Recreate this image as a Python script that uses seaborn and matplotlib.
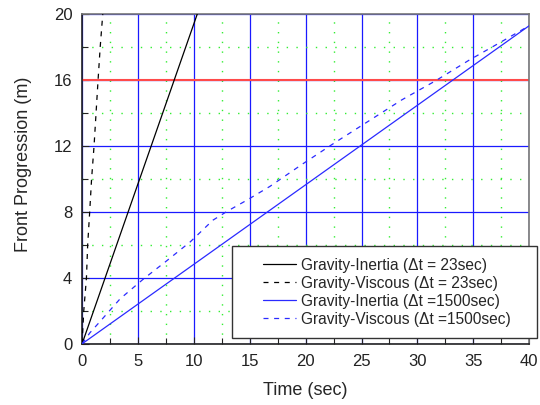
import numpy as np
import pandas as pd
import seaborn as sns
import matplotlib.pyplot as plt
from matplotlib.lines import Line2D
from matplotlib.legend_handler import HandlerLine2D
from matplotlib.ticker import MultipleLocator

# values
t_inertia_23 = [0, 10.3]
x_inertia_23 = [0, 20]

t_viscous_23 = [0, 0.15, 0.39, 0.5, 0.68, 0.85, 1.07, 1.25, 1.43, 1.62, 1.85]
x_viscous_23 = [0, 2, 4, 6, 8, 10, 12, 14, 16, 18, 20]

t_inertia_1500 = [0, 40]
x_inertia_1500 = [0, 19.3]

t_viscous_1500 = [0, 0.7, 1.6, 3.4, 5.5, 7.5, 9.7, 11.7, 13.0, 14.7, 16.8, 19.7,
                  22.6, 25.6, 28.6, 31.6, 34.6, 37.7, 40]
x_viscous_1500 = [0, 0.67, 1.35, 2.73, 3.94, 5.0, 6.2, 7.5, 8.05, 8.7, 9.55, 10.9,
                  12.2, 13.5, 14.8, 15.95, 17.2, 18.4, 19.3]

labels = ['Gravity-Inertia (\u0394t = 23sec)',
          'Gravity-Viscous (\u0394t = 23sec)',
          'Gravity-Inertia (\u0394t =1500sec)',
          'Gravity-Viscous (\u0394t =1500sec)']

red_level = 16  # highlighted level (red line)

sns.set_style('white')
plt.rcParams['font.family'] = ['Liberation Sans', 'DejaVu Sans']

fig = plt.figure(figsize=(5.4, 4.05), dpi=100)
ax = fig.add_axes([0.152, 0.151, 0.828, 0.814])

dash = (0, (4, 4.5))
series = [
    (t_inertia_23, x_inertia_23, 'black', '-'),
    (t_viscous_23, x_viscous_23, 'black', dash),
    (t_inertia_1500, x_inertia_1500, '#2a2aff', '-'),
    (t_viscous_1500, x_viscous_1500, '#2a2aff', dash),
]
for (t, x, c, ls), lab in zip(series, labels):
    df = pd.DataFrame({'t': t, 'x': x})
    sns.lineplot(data=df, x='t', y='x', color=c, linestyle=ls, linewidth=0.9,
                 label=lab, ax=ax, zorder=5, sort=False)

ax.set_xlim(0, 40)
ax.set_ylim(0, 20)
ax.xaxis.set_major_locator(MultipleLocator(5))
ax.xaxis.set_minor_locator(MultipleLocator(2.5))
ax.yaxis.set_major_locator(MultipleLocator(4))
ax.yaxis.set_minor_locator(MultipleLocator(2))

ax.grid(which='minor', color='#33ee33', linestyle=(0, (1, 6)), linewidth=1.0)
ax.grid(which='major', color='#1a1aff', linestyle='-', linewidth=0.9)
ax.axhline(red_level, color='#ff4a4a', linewidth=1.5, zorder=1.5)
ax.set_axisbelow(True)

ax.tick_params(which='both', direction='in', left=True, bottom=True,
               top=False, right=False, colors='#222222', labelsize=12, pad=7)
ax.tick_params(which='major', length=5, width=0.8)
ax.tick_params(which='minor', length=4, width=0.8)
for s in ['left', 'bottom']:
    ax.spines[s].set_color('#222222')
    ax.spines[s].set_linewidth(1.2)
for s in ['top', 'right']:
    ax.spines[s].set_color('#777777')
    ax.spines[s].set_linewidth(1.2)

ax.set_xlabel('Time (sec)', fontsize=13)
ax.set_ylabel('Front Progression (m)', fontsize=13)
ax.xaxis.set_label_coords(0.5, -0.115)
ax.yaxis.set_label_coords(-0.112, 0.545)

# legend box hangs past the right edge of the axes, as in the original
fs = 11.2 * 100 / 72  # legend font size in pixels
leg = ax.legend(loc='upper left',
                bbox_to_anchor=(232 / 540, 67 / 405, 305 / 540, 92 / 405),
                bbox_transform=fig.transFigure, mode='expand',
                fontsize=11.2, frameon=True, fancybox=False, framealpha=1,
                edgecolor='#333333', borderpad=0.75, labelspacing=0.19,
                handlelength=52.7 / fs, handletextpad=5 / fs,
                borderaxespad=0,
                handler_map={Line2D: HandlerLine2D(xpad=19.7 / fs)})
leg.get_frame().set_linewidth(1.0)
leg.set_zorder(10)

fig.savefig('out.png', dpi=100)
